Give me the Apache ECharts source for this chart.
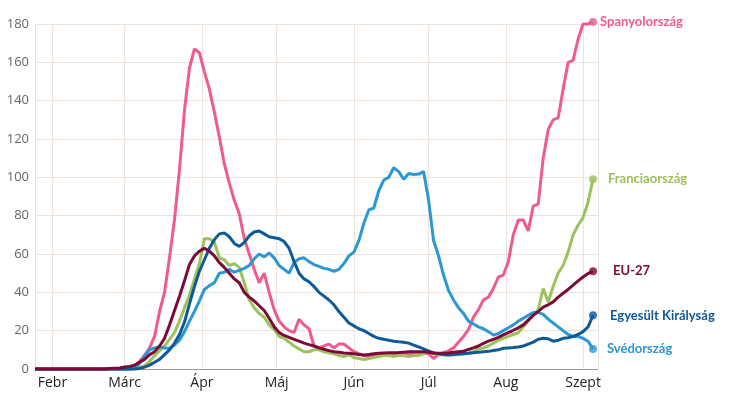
<!DOCTYPE html>
<html>
<head>
<meta charset="utf-8">
<script src="https://cdn.jsdelivr.net/npm/echarts@6/dist/echarts.min.js"></script>
<style>
  html, body { margin: 0; padding: 0; background: #fff; }
  #chart { width: 735px; height: 396px; }
</style>
</head>
<body>
<div id="chart"></div>
<script>
// napi adatok, 2 naponta, 2020-01-25-tol 2020-09-05-ig
var startDay = [2020, 0, 25];
var stepDays = 2;
var monthNames = ['Jan', 'Febr', 'Márc', 'Ápr', 'Máj', 'Jún', 'Júl', 'Aug', 'Szept'];
var seriesNames = ['Spanyolország', 'Franciaország', 'Svédország', 'Egyesült Királyság', 'EU-27'];

var spain = [0, 0, 0, 0, 0, 0, 0, 0, 0, 0, 0, 0, 0, 0, 0, 0, 0, 0,
    0.3, 0.8, 1.5, 4, 7, 11, 17, 30, 40, 58, 78, 104, 135, 157, 167, 165, 155, 146, 134, 121, 107, 97,
    88, 81, 68, 60, 52, 45, 50, 40, 31, 25, 22, 20, 19, 26, 23, 21, 12, 11, 12, 13,
    11, 13, 13, 11, 9, 8, 7, 6.5, 7.3, 7.5, 7.5, 8, 7.5, 8, 7.5, 8, 7.5, 7.5, 8.5, 8,
    5.5, 7.5, 8.5, 9.5, 11, 14, 17, 20.5, 27, 31, 36, 37.5, 42, 48, 49, 56, 70, 77.7, 77.7, 72,
    85, 86, 110, 125, 130, 131, 146, 160, 161, 172, 180, 180, 181];

var france = [0, 0, 0, 0, 0, 0, 0, 0, 0, 0, 0, 0, 0, 0, 0, 0, 0, 0, 0, 0,
    0.3, 1, 1.5, 4, 7, 9.5, 12, 15.5, 19, 25, 32, 38.5, 47, 55, 68, 68, 66, 58, 57, 54,
    55, 53, 45, 36, 32, 29, 27, 23, 20.5, 17, 16, 14, 12, 10.5, 9, 9, 10, 10, 9, 8.5,
    8, 7, 6.5, 7.5, 6, 5.5, 5, 5.5, 6, 6.5, 7, 7, 6.5, 7, 7, 6.5, 7, 7, 8, 9.5,
    8, 7.5, 7.3, 7.3, 7.5, 7.5, 7.8, 8.2, 9, 10.5, 11, 12, 13.5, 15, 16, 17, 18, 19, 22, 25,
    28, 31, 42, 35, 43, 50, 54, 61, 70, 75, 79, 87, 99];

var sweden = [0, 0, 0, 0, 0, 0, 0, 0, 0, 0, 0, 0, 0, 0, 0, 0, 0, 0, 0, 0,
    0.5, 3, 7, 10, 11, 11.5, 11, 10.8, 12.5, 15, 19.5, 25, 30, 35.5, 41.5, 43.5, 45, 50, 50.5, 52,
    50.5, 51.5, 52.5, 54, 57.5, 60, 58.5, 60.5, 58, 54, 52, 50, 55.5, 57.5, 58, 56, 54.5, 53.5, 52.5, 52,
    51, 52, 55, 59, 61, 67, 76, 83, 84, 93, 98.6, 100, 105, 103, 99, 102, 101.5, 101.7, 103, 88,
    67, 59, 49, 41, 36, 32, 29, 25, 23.5, 22, 21, 19.5, 17.7, 18.5, 20, 21.5, 23, 25, 26.5, 28,
    29.5, 29.5, 28.5, 26, 24, 22, 20, 18, 17, 17, 16, 14.5, 10.5];

var uk = [0, 0, 0, 0, 0, 0, 0, 0, 0, 0, 0, 0, 0, 0, 0, 0, 0, 0, 0, 0, 0,
    0.3, 1, 2, 3.5, 5, 7.5, 10, 13.5, 18, 24.5, 34, 43, 51, 57, 63, 67.5, 70.5, 71,
    69, 65.5, 64, 66, 69.5, 71.5, 72, 70.5, 69, 68.5, 68, 66.5, 63, 56, 50, 47, 45.5, 43, 40, 38,
    36, 33.5, 30, 27, 24, 22.5, 21, 20, 18.5, 17, 16, 15.5, 15, 14.5, 14.2, 14, 13.5, 12.5, 11.5, 10.5,
    9.3, 8.5, 8, 7.5, 7.3, 7.5, 7.8, 8, 8.2, 8.5, 8.8, 9, 9.2, 9.6, 10, 10.8, 11, 11.2, 11.5, 12,
    13, 14, 15.5, 16, 15.8, 14.5, 15, 16, 16.3, 17, 18, 19.5, 22, 28];

var eu = [0, 0, 0, 0, 0, 0, 0, 0, 0, 0, 0, 0, 0, 0, 0,
    0.2, 0.4, 0.5, 1, 1.3, 2, 3.5, 5, 7.5, 9, 12, 16, 23, 30.5, 38, 46, 54.5, 59, 61.5, 63,
    61.5, 59, 55.5, 53, 50, 47, 45, 40, 37.5, 35.5, 33, 30.5, 26.5, 22, 19, 17.5, 16.5, 15.5, 14.5, 13.5,
    12.7, 12, 11, 10.3, 9.6, 9, 8.7, 8.4, 8.2, 8, 7.6, 7.3, 7.6, 8, 8.2, 8.4, 8.5, 8.5, 8.6, 8.8,
    9, 9, 9, 9, 8.7, 8.4, 8.2, 8.2, 8.4, 8.7, 9, 9.2, 10.2, 11, 12, 13.4, 14.5, 15.5, 16.5, 17.8,
    19, 20.2, 21.5, 23, 25.5, 28, 30, 32.3, 33.5, 35, 37.5, 39.5, 41.5, 43.8, 46, 48, 49.8, 51];

var colors = ['#EF5B8E', '#9BC25B', '#2B97D4', '#0E5A98', '#7C0A38'];
var labelDistance = [7, 15, 14, 17, 20];

$ = window.$ || function (fn) { fn(); };

$(function () {
    var dom = document.getElementById("chart");
    var myChart = echarts.init(dom);
    option = null;

    var allValues = [spain, france, sweden, uk, eu];

    function toPoints(values) {
        return values.map(function (v, i) {
            return [new Date(startDay[0], startDay[1], startDay[2] + i * stepDays).getTime(), v];
        });
    }

    var series = [];
    var endDots = [];
    for (var k = 0; k < allValues.length; k++) {
        var pts = toPoints(allValues[k]);
        series.push({
            name: seriesNames[k],
            type: 'line',
            data: pts,
            symbol: 'none',
            smooth: false,
            clip: false,
            lineStyle: { color: colors[k], width: 3 },
            itemStyle: { color: colors[k] },
            endLabel: {
                show: true,
                formatter: '{a}',
                color: colors[k],
                fontFamily: 'Lato',
                fontWeight: 'bold',
                fontSize: 13,
                distance: labelDistance[k]
            },
            z: 2 + k
        });
        endDots.push({ value: pts[pts.length - 1], itemStyle: { color: colors[k] } });
    }
    series.push({
        type: 'scatter',
        data: endDots,
        symbol: 'circle',
        symbolSize: 8,
        clip: false,
        z: 10
    });

    option = {
        animation: false,
        backgroundColor: '#ffffff',
        grid: { left: 35, right: 137, top: 24, bottom: 27 },
        xAxis: {
            type: 'time',
            min: new Date(2020, 0, 25).getTime(),
            max: new Date(2020, 8, 7).getTime(),
            splitNumber: 8,
            minInterval: 28 * 86400000,
            maxInterval: 31 * 86400000,
            axisLine: { show: true, lineStyle: { color: '#999999', width: 1 } },
            axisTick: { show: false },
            splitLine: { show: true, lineStyle: { color: '#EDE3DB', width: 1 } },
            axisLabel: {
                color: '#222222',
                fontFamily: 'Open Sans',
                fontSize: 14,
                margin: 7,
                formatter: function (v) {
                    return monthNames[new Date(v).getMonth()];
                }
            }
        },
        yAxis: {
            type: 'value',
            min: 0,
            max: 180,
            interval: 20,
            axisLine: { show: false },
            axisTick: { show: false },
            splitLine: { lineStyle: { color: '#EDE3DB', width: 1 } },
            axisLabel: {
                color: '#666666',
                fontFamily: 'Open Sans',
                fontSize: 13,
                margin: 6
            }
        },
        series: series
    };
    if (option && typeof option === "object") {
        myChart.setOption(option, true);
    }
});
</script>
</body>
</html>
